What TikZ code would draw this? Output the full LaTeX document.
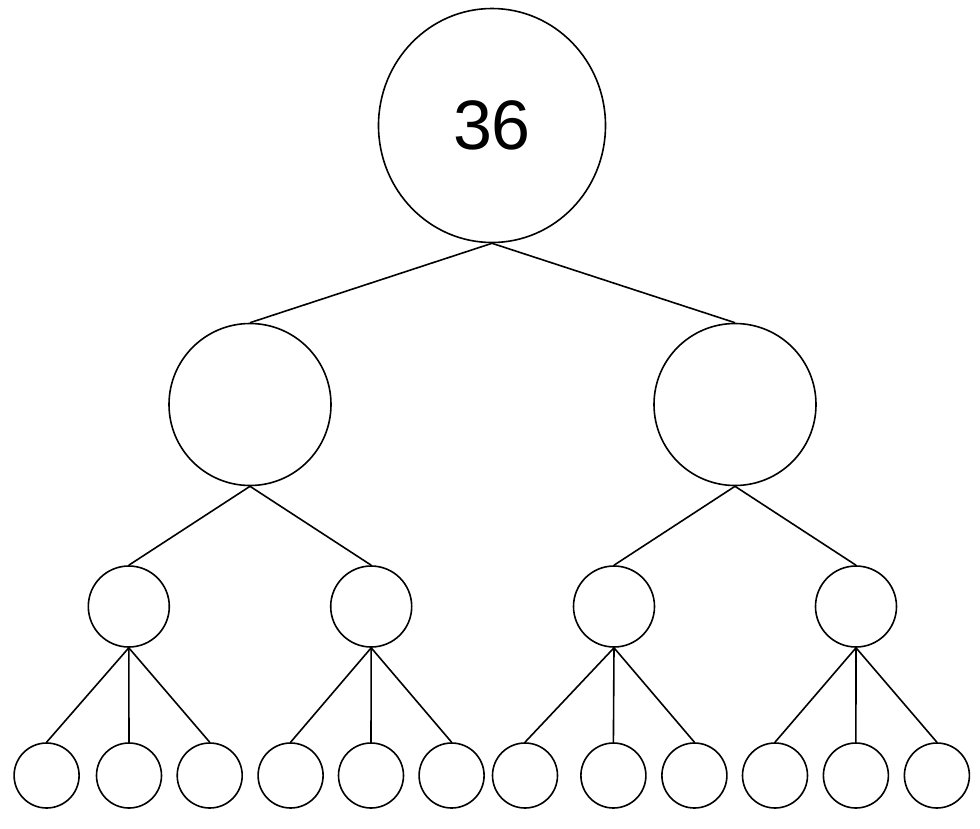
\documentclass[tikz,border=0pt]{standalone}
\usepackage{fontspec}
\setmainfont{Liberation Sans}
\usetikzlibrary{shapes.geometric}
\begin{document}
\begin{tikzpicture}[x=1pt,y=-1pt,
  nd/.style={draw=black,line width=1.6pt,circle,inner sep=0pt,fill=white},
  lv1/.style={nd,ellipse,minimum width=227pt,minimum height=234pt},
  lv2/.style={nd,minimum size=162pt},
  lv3/.style={nd,minimum size=81pt},
  lv4/.style={nd,minimum size=65pt},
  edge/.style={draw=black,line width=1.6pt}]
\useasboundingbox (0,0) rectangle (980,828);
\node[lv1,font=\fontsize{70}{80}\selectfont] (r) at (492,125.5) {36};
\node[lv2] (a) at (250,404.5) {};
\node[lv2] (b) at (735,404.5) {};
\node[lv3] (a1) at (128.8,606.5) {};
\node[lv3] (a2) at (371.2,606.5) {};
\node[lv3] (b1) at (614,606.5) {};
\node[lv3] (b2) at (856,606.5) {};
\foreach \n/\x in {l1/46.6,l2/129,l3/209.7,l4/290.6,l5/371,l6/451.6,l7/525,l8/613.4,l9/694.4,l10/775,l11/855.9,l12/936.9}
  \node[lv4] (\n) at (\x,775.5) {};
\foreach \p/\c in {r/a,r/b,a/a1,a/a2,b/b1,b/b2,a1/l1,a1/l2,a1/l3,a2/l4,a2/l5,a2/l6,b1/l7,b1/l8,b1/l9,b2/l10,b2/l11,b2/l12}
  \draw[edge] (\p.south) -- (\c.north);
\end{tikzpicture}
\end{document}
